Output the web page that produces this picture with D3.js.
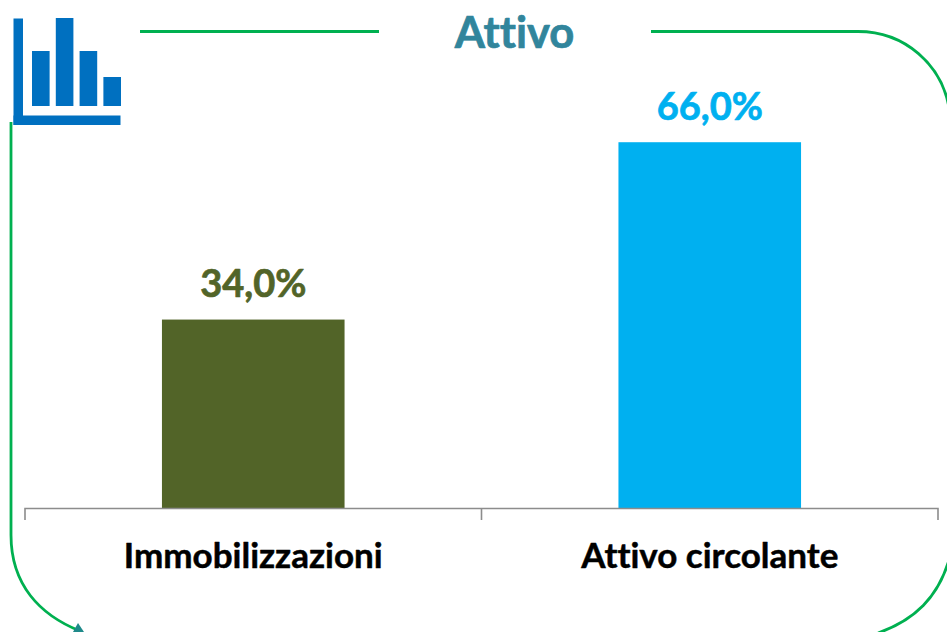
<!DOCTYPE html>
<html><head><meta charset="utf-8">
<script src="https://cdn.jsdelivr.net/npm/d3@7"></script>
<style>html,body{margin:0;padding:0;background:#fff;overflow:hidden}svg{display:block}text{font-family:Lato,"Open Sans",sans-serif;font-weight:700;font-variant-ligatures:none;paint-order:stroke;stroke-linejoin:round}</style>
</head><body><svg id="c" width="947" height="632"></svg>
<script>
const categories = ["Immobilizzazioni", "Attivo circolante"];
const values = [34.0, 66.0];
const barColors = ["#526428", "#00B0F0"];
const title = "Attivo";
const iconValues = [55, 88, 55, 29];

const svg = d3.select("#c");
const x = d3.scaleBand().domain(categories).range([25, 938]).paddingInner(0.6).paddingOuter(0.3);
const y = d3.scaleLinear().domain([0, 66.4]).range([508, 140]);
const fmt = v => v.toFixed(1).replace(".", ",") + "%";

// frame
const g = "#00B050";
const frame = d3.path();
frame.moveTo(651, 31.5); frame.lineTo(858, 31.5);
frame.bezierCurveTo(905, 31.5, 942, 65, 949, 108);
const frame2 = d3.path();
frame2.moveTo(949, 560); frame2.bezierCurveTo(938, 597, 915, 620, 878, 633);
const frame3 = d3.path();
frame3.moveTo(11, 122); frame3.lineTo(11, 535);
frame3.bezierCurveTo(11, 585, 40, 615, 80, 631);
const frame4 = d3.path();
frame4.moveTo(140, 31.5); frame4.lineTo(379, 31.5);
svg.selectAll("path.frame").data([frame, frame2, frame3, frame4]).join("path")
  .attr("class", "frame").attr("d", d => d.toString())
  .attr("fill", "none").attr("stroke", g).attr("stroke-width", 2.8);
svg.append("path").attr("d", "M73,632L78,623L84,632Z").attr("fill", "#1F8A8A");

// icon
const ic = "#0070C0";
svg.append("rect").attr("x", 13.5).attr("y", 18.5).attr("width", 9.5).attr("height", 106.5).attr("fill", ic);
svg.append("rect").attr("x", 13.5).attr("y", 115.5).attr("width", 107).attr("height", 9.5).attr("fill", ic);
const ix = d3.scaleBand().domain(d3.range(iconValues.length)).range([32, 121]).paddingInner(0.26);
const iy = d3.scaleLinear().domain([0, 88]).range([106, 18]);
svg.selectAll("rect.ib").data(iconValues).join("rect").attr("class", "ib")
  .attr("x", (d, i) => ix(i)).attr("width", ix.bandwidth())
  .attr("y", d => iy(d)).attr("height", d => iy(0) - iy(d)).attr("fill", ic);

// bars
svg.selectAll("rect.bar").data(values).join("rect").attr("class", "bar")
  .attr("x", (d, i) => x(categories[i])).attr("width", x.bandwidth())
  .attr("y", d => y(d)).attr("height", d => y(0) - y(d))
  .attr("fill", (d, i) => barColors[i]);
svg.selectAll("text.val").data(values).join("text").attr("class", "val")
  .attr("x", (d, i) => x(categories[i]) + x.bandwidth() / 2)
  .attr("y", d => y(d) - 22.5)
  .attr("text-anchor", "middle").attr("font-size", 38)
  .attr("fill", (d, i) => barColors[i])
  .attr("stroke", (d, i) => barColors[i]).attr("stroke-width", 0.7).text(fmt);

// axis
const ax = d3.path();
const step = x.step();
ax.moveTo(25, 520); ax.lineTo(25, 508.5); ax.lineTo(938, 508.5); ax.lineTo(938, 520);
ax.moveTo(25 + step, 508.5); ax.lineTo(25 + step, 520);
svg.append("path").attr("d", ax.toString()).attr("fill", "none").attr("stroke", "#8C8C8C").attr("stroke-width", 1.6);
svg.selectAll("text.cat").data(categories).join("text").attr("class", "cat")
  .attr("x", d => x(d) + x.bandwidth() / 2).attr("y", 568)
  .attr("text-anchor", "middle").attr("font-size", 35).attr("fill", "#000")
  .attr("stroke", "#000").attr("stroke-width", 0.5).text(d => d);

svg.append("text").attr("x", 514.5).attr("y", 48).attr("text-anchor", "middle")
  .attr("font-size", 43.5).attr("fill", "#31859C")
  .attr("stroke", "#31859C").attr("stroke-width", 0.7).text(title);
</script></body></html>
